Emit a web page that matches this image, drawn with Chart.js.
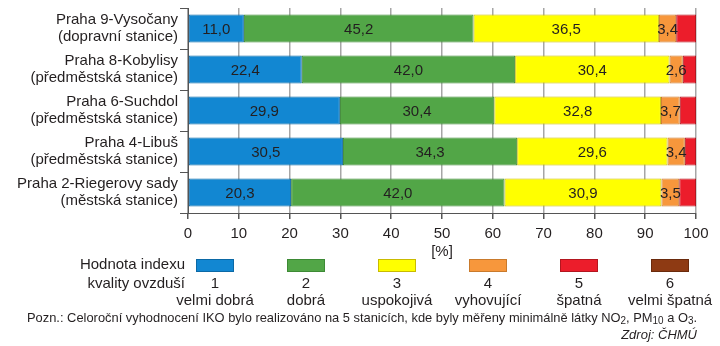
<!DOCTYPE html>
<html>
<head>
<meta charset="utf-8">
<script src="https://cdn.jsdelivr.net/npm/chart.js@4"></script>
<style>
  html, body { margin: 0; padding: 0; background: #fff; }
  #wrap { width: 720px; height: 346px; position: relative; }
</style>
</head>
<body>
<div id="wrap"><canvas id="chart" width="720" height="346"></canvas></div>
<script>
// stanice (shora dolu)
const categories = [
    ["Praha 9-Vysočany", "(dopravní stanice)"],
    ["Praha 8-Kobylisy", "(předměstská stanice)"],
    ["Praha 6-Suchdol", "(předměstská stanice)"],
    ["Praha 4-Libuš", "(předměstská stanice)"],
    ["Praha 2-Riegerovy sady", "(městská stanice)"]
];

// podil hodin [%] podle hodnoty indexu
const velmiDobra = [11.0, 22.4, 29.9, 30.5, 20.3];
const dobra = [45.2, 42.0, 30.4, 34.3, 42.0];
const uspokojiva = [36.5, 30.4, 32.8, 29.6, 30.9];
const vyhovujici = [3.4, 2.6, 3.7, 3.4, 3.5];
const spatna = [3.9, 2.6, 3.2, 2.2, 3.3];
const velmiSpatna = [0, 0, 0, 0, 0];

const xTicks = [0, 10, 20, 30, 40, 50, 60, 70, 80, 90, 100];
const legendNums = ["1", "2", "3", "4", "5", "6"];
const legendNames = ["velmi dobrá", "dobrá", "uspokojivá", "vyhovující", "špatná", "velmi špatná"];

const fills = ["#1287d2", "#52a647", "#ffff00", "#f7973c", "#ec1d2b", "#8e3a13"];
const borders = ["#0b69a6", "#3d8a35", "#c9bb00", "#c97a2c", "#b3161f", "#6a2a0c"];

const FONT = "'Liberation Sans', Arial, sans-serif";
const TEXT = "#231f20";

const seriesData = [velmiDobra, dobra, uspokojiva, vyhovujici, spatna, velmiSpatna];

const datasets = seriesData.map((d, i) => ({
    label: legendNames[i],
    data: d,
    backgroundColor: fills[i],
    borderColor: borders[i],
    borderWidth: 1,
    borderSkipped: false,
    barPercentage: 0.68,
    categoryPercentage: 1.0
}));

// hodnoty uvnitr segmentu (jen 1-4)
const valueLabels = {
    id: "valueLabels",
    afterDatasetsDraw(chart) {
        const ctx = chart.ctx;
        ctx.save();
        ctx.font = "15px " + FONT;
        ctx.fillStyle = TEXT;
        ctx.textAlign = "center";
        ctx.textBaseline = "middle";
        for (let i = 0; i < 4; i++) {
            const meta = chart.getDatasetMeta(i);
            meta.data.forEach((bar, j) => {
                const v = chart.data.datasets[i].data[j];
                const txt = v.toFixed(1).replace(".", ",");
                ctx.fillText(txt, (bar.x + bar.base) / 2, bar.y + 1);
            });
        }
        ctx.restore();
    }
};

// legenda a poznamky pod grafem
const bottomTexts = {
    id: "bottomTexts",
    afterDraw(chart) {
        const ctx = chart.ctx;
        ctx.save();
        ctx.fillStyle = TEXT;
        ctx.textBaseline = "middle";

        ctx.font = "15px " + FONT;
        ctx.textAlign = "center";
        ctx.fillText("[%]", (chart.chartArea.left + chart.chartArea.right) / 2, 252);

        ctx.textAlign = "right";
        ctx.fillText("Hodnota indexu", 185, 265);
        ctx.fillText("kvality ovzduší", 185, 284);

        const centers = [215, 306, 397, 488, 579, 670];
        centers.forEach((cx, i) => {
            ctx.fillStyle = fills[i];
            ctx.fillRect(cx - 19, 259, 38, 13);
            ctx.strokeStyle = borders[i];
            ctx.lineWidth = 1;
            ctx.strokeRect(cx - 18.5, 259.5, 37, 12);
            ctx.fillStyle = TEXT;
            ctx.textAlign = "center";
            ctx.font = "15px " + FONT;
            ctx.fillText(legendNums[i], cx, 284);
            ctx.fillText(legendNames[i], cx, 301);
        });

        // poznamka s dolnimi indexy
        const runs = [
            ["Pozn.: Celoroční vyhodnocení IKO bylo realizováno na 5 stanicích, kde byly měřeny minimálně látky NO", false],
            ["2", true], [", PM", false], ["10", true], [" a O", false], ["3", true], [".", false]
        ];
        const measure = () => runs.reduce((w, r) => {
            ctx.font = (r[1] ? "10px " : "13px ") + FONT;
            return w + ctx.measureText(r[0]).width;
        }, 0);
        const total = measure();
        const target = 670;
        const sx = target / total;
        ctx.save();
        ctx.translate(27, 318);
        ctx.scale(sx, 1);
        ctx.textAlign = "left";
        let x = 0;
        runs.forEach(r => {
            ctx.font = (r[1] ? "10px " : "13px ") + FONT;
            ctx.fillText(r[0], x, r[1] ? 3 : 0);
            x += ctx.measureText(r[0]).width;
        });
        ctx.restore();

        ctx.font = "italic 13px " + FONT;
        ctx.textAlign = "right";
        ctx.fillText("Zdroj: ČHMÚ", 697, 335);
        ctx.restore();
    }
};

const ctx = document.getElementById("chart").getContext("2d");
const chart = new Chart(ctx, {
    type: "bar",
    data: { labels: categories, datasets: datasets },
    options: {
        indexAxis: "y",
        responsive: false,
        animation: false,
        devicePixelRatio: 1,
        layout: { padding: { top: 8, right: 24, bottom: 103, left: 0 } },
        plugins: {
            legend: { display: false },
            tooltip: { enabled: false }
        },
        scales: {
            x: {
                stacked: true,
                min: 0,
                max: 100,
                afterFit(scale) { scale.height = 30; scale.paddingLeft = 0; scale.paddingRight = 0; },
                afterBuildTicks(scale) { scale.ticks = xTicks.map(v => ({ value: v })); },
                border: { display: true, color: "#555", width: 1 },
                grid: { color: "#a6a6a6", lineWidth: 1.5, tickLength: 6, tickColor: "#555", drawTicks: true },
                ticks: { color: TEXT, font: { family: FONT, size: 15 }, padding: 6, maxRotation: 0 }
            },
            y: {
                stacked: true,
                afterFit(scale) { scale.width = 188; scale.paddingTop = 0; scale.paddingBottom = 0; },
                border: { display: true, color: "#555", width: 1 },
                grid: { drawOnChartArea: false, offset: true, tickLength: 8, color: "#555" },
                ticks: { color: TEXT, font: { family: FONT, size: 15, lineHeight: 1.12 }, padding: 2 }
            }
        }
    },
    plugins: [valueLabels, bottomTexts]
});
</script>
</body>
</html>
